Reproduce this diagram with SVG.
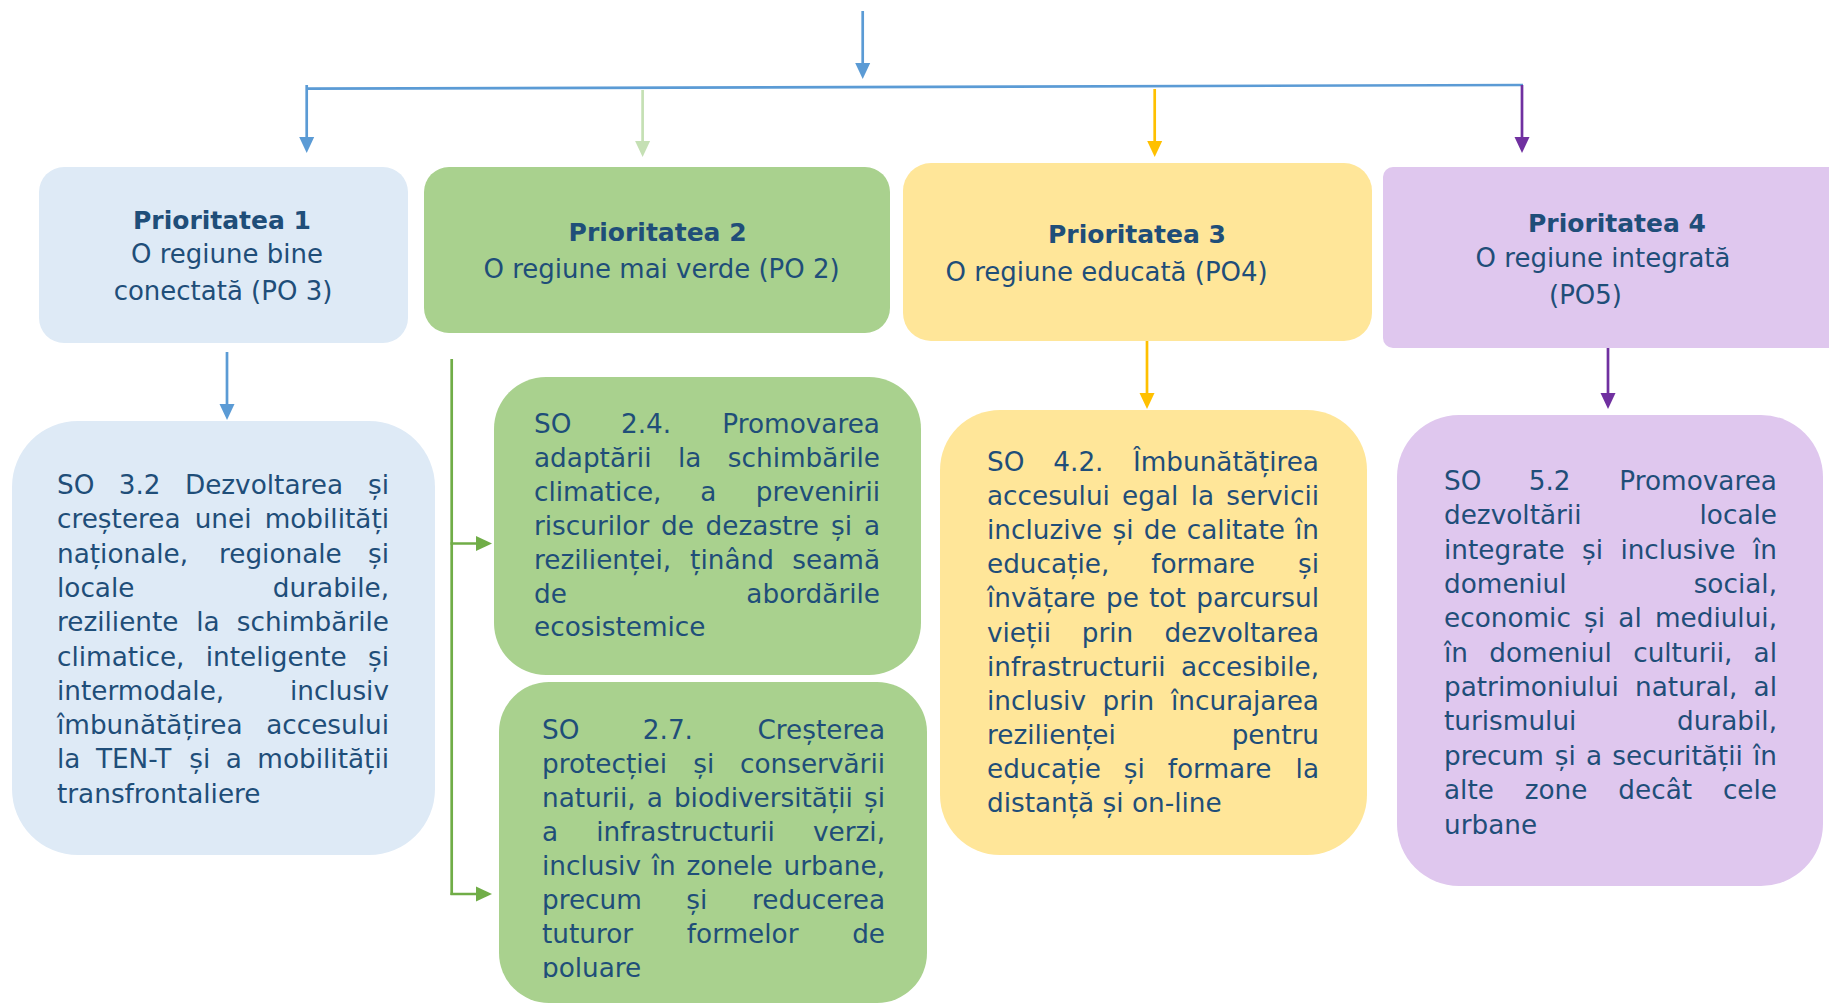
<svg xmlns="http://www.w3.org/2000/svg" width="1829" height="1004" viewBox="0 0 1829 1004">
<style>
text{font-family:"DejaVu Sans","Liberation Sans",sans-serif;fill:#1F4E79;}
.h{font-size:26px;text-anchor:middle;}
.hb{font-size:25px;font-weight:bold;text-anchor:middle;}
.b{font-size:26.3px;}
.e{text-anchor:end;}
.ln{fill:none;stroke-width:2.7;}
</style>
<defs>
<marker id="mB" markerUnits="userSpaceOnUse" markerWidth="16" markerHeight="16" viewBox="0 0 16 16" refX="12" refY="8" orient="auto"><path d="M0,0.5 L16,8 L0,15.5 z" fill="#5B9BD5"/></marker>
<marker id="mLG" markerUnits="userSpaceOnUse" markerWidth="16" markerHeight="16" viewBox="0 0 16 16" refX="12" refY="8" orient="auto"><path d="M0,0.5 L16,8 L0,15.5 z" fill="#C5E0B4"/></marker>
<marker id="mY" markerUnits="userSpaceOnUse" markerWidth="16" markerHeight="16" viewBox="0 0 16 16" refX="12" refY="8" orient="auto"><path d="M0,0.5 L16,8 L0,15.5 z" fill="#FFC000"/></marker>
<marker id="mP" markerUnits="userSpaceOnUse" markerWidth="16" markerHeight="16" viewBox="0 0 16 16" refX="12" refY="8" orient="auto"><path d="M0,0.5 L16,8 L0,15.5 z" fill="#7030A0"/></marker>
<marker id="mG" markerUnits="userSpaceOnUse" markerWidth="16" markerHeight="16" viewBox="0 0 16 16" refX="12" refY="8" orient="auto"><path d="M0,0.5 L16,8 L0,15.5 z" fill="#70AD47"/></marker>
<clipPath id="clip27"><rect x="499" y="682" width="428" height="296"/></clipPath>
</defs>
<rect width="1829" height="1004" fill="#FFFFFF"/>

<g id="connectors">
<line class="ln" x1="862.7" y1="11" x2="862.7" y2="75" stroke="#5B9BD5" marker-end="url(#mB)"/>
<line class="ln" x1="307" y1="88.7" x2="1523" y2="85" stroke="#5B9BD5" stroke-width="3"/>
<line class="ln" x1="306.7" y1="85" x2="306.7" y2="149" stroke="#5B9BD5" marker-end="url(#mB)"/>
<line class="ln" x1="642.6" y1="90" x2="642.6" y2="153" stroke="#C5E0B4" marker-end="url(#mLG)"/>
<line class="ln" x1="1154.7" y1="89" x2="1154.7" y2="153" stroke="#FFC000" marker-end="url(#mY)"/>
<line class="ln" x1="1522" y1="85" x2="1522" y2="149" stroke="#7030A0" marker-end="url(#mP)"/>
<line class="ln" x1="227" y1="352" x2="227" y2="416" stroke="#5B9BD5" marker-end="url(#mB)"/>
<line class="ln" x1="451.7" y1="359" x2="451.7" y2="895" stroke="#70AD47"/>
<line class="ln" x1="450.5" y1="543.5" x2="488" y2="543.5" stroke="#70AD47" marker-end="url(#mG)"/>
<line class="ln" x1="450.5" y1="894" x2="488" y2="894" stroke="#70AD47" marker-end="url(#mG)"/>
<line class="ln" x1="1147" y1="340" x2="1147" y2="405" stroke="#FFC000" marker-end="url(#mY)"/>
<line class="ln" x1="1608" y1="341" x2="1608" y2="405" stroke="#7030A0" marker-end="url(#mP)"/>
</g>

<g id="p1">
<rect x="39" y="167" width="369" height="176" rx="25" fill="#DEEAF6"/>
<text class="hb" x="222" y="229">Prioritatea 1</text>
<text class="h" x="227" y="263">O regiune bine</text>
<text class="h" x="223" y="300">conectată (PO 3)</text>
</g>

<g id="p2">
<rect x="424" y="167" width="466" height="166" rx="25" fill="#A9D18E"/>
<text class="hb" x="657.6" y="241">Prioritatea 2</text>
<text class="h" x="661.6" y="278">O regiune mai verde (PO 2)</text>
</g>

<g id="p3">
<rect x="903" y="163" width="469" height="178" rx="28" fill="#FFE699"/>
<text class="hb" x="1137" y="243">Prioritatea 3</text>
<text class="h" x="1106.6" y="281">O regiune educată (PO4)</text>
</g>

<g id="p4">
<rect x="1383" y="167" width="460" height="181" rx="10" fill="#DFC7EE"/>
<text class="hb" x="1617" y="232">Prioritatea 4</text>
<text class="h" x="1603" y="267">O regiune integrată</text>
<text class="h" x="1585.5" y="304">(PO5)</text>
</g>

<g id="so32">
<rect x="12" y="421" width="423" height="434" rx="66" fill="#DEEAF6"/>
<text class="b" y="494"><tspan x="57">SO</tspan><tspan x="118.7">3.2</tspan><tspan x="184.9">Dezvoltarea</tspan><tspan class="e" x="389">și</tspan></text>
<text class="b" y="528.3"><tspan x="57">creșterea</tspan><tspan x="194.7">unei</tspan><tspan class="e" x="389">mobilități</tspan></text>
<text class="b" y="562.6"><tspan x="57">naționale,</tspan><tspan x="219">regionale</tspan><tspan class="e" x="389">și</tspan></text>
<text class="b" y="596.9"><tspan x="57">locale</tspan><tspan class="e" x="389">durabile,</tspan></text>
<text class="b" y="631.2"><tspan x="57">reziliente</tspan><tspan x="196.2">la</tspan><tspan class="e" x="389">schimbările</tspan></text>
<text class="b" y="665.5"><tspan x="57">climatice,</tspan><tspan x="205.7">inteligente</tspan><tspan class="e" x="389">și</tspan></text>
<text class="b" y="699.8"><tspan x="57">intermodale,</tspan><tspan class="e" x="389">inclusiv</tspan></text>
<text class="b" y="734.1"><tspan x="57">îmbunătățirea</tspan><tspan class="e" x="389">accesului</tspan></text>
<text class="b" y="768.4"><tspan x="57">la</tspan><tspan x="95.9">TEN-T</tspan><tspan x="189.3">și</tspan><tspan x="225.8">a</tspan><tspan class="e" x="389">mobilității</tspan></text>
<text class="b" y="802.7"><tspan x="57">transfrontaliere</tspan></text>
</g>

<g id="so24">
<rect x="494" y="377" width="427" height="298" rx="52" fill="#A9D18E"/>
<text class="b" y="433"><tspan x="534">SO</tspan><tspan x="621">2.4.</tspan><tspan class="e" x="880">Promovarea</tspan></text>
<text class="b" y="466.9"><tspan x="534">adaptării</tspan><tspan x="678">la</tspan><tspan class="e" x="880">schimbările</tspan></text>
<text class="b" y="500.8"><tspan x="534">climatice,</tspan><tspan x="700.3">a</tspan><tspan class="e" x="880">prevenirii</tspan></text>
<text class="b" y="534.7"><tspan x="534">riscurilor</tspan><tspan x="661">de</tspan><tspan x="705.6">dezastre</tspan><tspan x="831.1">și</tspan><tspan class="e" x="880">a</tspan></text>
<text class="b" y="568.6"><tspan x="534">rezilienței,</tspan><tspan x="690.1">ținând</tspan><tspan class="e" x="880">seamă</tspan></text>
<text class="b" y="602.5"><tspan x="534">de</tspan><tspan class="e" x="880">abordările</tspan></text>
<text class="b" y="636.4"><tspan x="534">ecosistemice</tspan></text>
</g>

<g id="so27">
<rect x="499" y="682" width="428" height="321" rx="50" fill="#A9D18E"/>
<g clip-path="url(#clip27)">
<text class="b" y="739"><tspan x="542">SO</tspan><tspan x="642.8">2.7.</tspan><tspan class="e" x="885">Creșterea</tspan></text>
<text class="b" y="773"><tspan x="542">protecției</tspan><tspan x="693.3">și</tspan><tspan class="e" x="885">conservării</tspan></text>
<text class="b" y="807"><tspan x="542">naturii,</tspan><tspan x="646.7">a</tspan><tspan x="673.9">biodiversității</tspan><tspan class="e" x="885">și</tspan></text>
<text class="b" y="841"><tspan x="542">a</tspan><tspan x="596.3">infrastructurii</tspan><tspan class="e" x="885">verzi,</tspan></text>
<text class="b" y="875"><tspan x="542">inclusiv</tspan><tspan x="651.8">în</tspan><tspan x="686.5">zonele</tspan><tspan class="e" x="885">urbane,</tspan></text>
<text class="b" y="909"><tspan x="542">precum</tspan><tspan x="686.2">și</tspan><tspan class="e" x="885">reducerea</tspan></text>
<text class="b" y="943"><tspan x="542">tuturor</tspan><tspan x="686.8">formelor</tspan><tspan class="e" x="885">de</tspan></text>
<text class="b" y="977"><tspan x="542">poluare</tspan></text>
</g>
</g>

<g id="so42">
<rect x="940" y="410" width="427" height="445" rx="60" fill="#FFE699"/>
<text class="b" y="471"><tspan x="987">SO</tspan><tspan x="1053.3">4.2.</tspan><tspan class="e" x="1319">Îmbunătățirea</tspan></text>
<text class="b" y="505.1"><tspan x="987">accesului</tspan><tspan x="1122.1">egal</tspan><tspan x="1190.7">la</tspan><tspan class="e" x="1319">servicii</tspan></text>
<text class="b" y="539.2"><tspan x="987">incluzive</tspan><tspan x="1112.5">și</tspan><tspan x="1143.7">de</tspan><tspan x="1186.8">calitate</tspan><tspan class="e" x="1319">în</tspan></text>
<text class="b" y="573.3"><tspan x="987">educație,</tspan><tspan x="1151.2">formare</tspan><tspan class="e" x="1319">și</tspan></text>
<text class="b" y="607.4"><tspan x="987">învățare</tspan><tspan x="1106.1">pe</tspan><tspan x="1149">tot</tspan><tspan class="e" x="1319">parcursul</tspan></text>
<text class="b" y="641.5"><tspan x="987">vieții</tspan><tspan x="1081.8">prin</tspan><tspan class="e" x="1319">dezvoltarea</tspan></text>
<text class="b" y="675.6"><tspan x="987">infrastructurii</tspan><tspan class="e" x="1319">accesibile,</tspan></text>
<text class="b" y="709.7"><tspan x="987">inclusiv</tspan><tspan x="1102.6">prin</tspan><tspan class="e" x="1319">încurajarea</tspan></text>
<text class="b" y="743.8"><tspan x="987">rezilienței</tspan><tspan class="e" x="1319">pentru</tspan></text>
<text class="b" y="777.9"><tspan x="987">educație</tspan><tspan x="1123.8">și</tspan><tspan x="1167.7">formare</tspan><tspan class="e" x="1319">la</tspan></text>
<text class="b" y="812"><tspan x="987">distanță și on-line</tspan></text>
</g>

<g id="so52">
<rect x="1397" y="415" width="426" height="471" rx="62" fill="#DFC7EE"/>
<text class="b" y="490"><tspan x="1444">SO</tspan><tspan x="1528.7">5.2</tspan><tspan class="e" x="1777">Promovarea</tspan></text>
<text class="b" y="524.35"><tspan x="1444">dezvoltării</tspan><tspan class="e" x="1777">locale</tspan></text>
<text class="b" y="558.7"><tspan x="1444">integrate</tspan><tspan x="1582">și</tspan><tspan x="1620.4">inclusive</tspan><tspan class="e" x="1777">în</tspan></text>
<text class="b" y="593.05"><tspan x="1444">domeniul</tspan><tspan class="e" x="1777">social,</tspan></text>
<text class="b" y="627.4"><tspan x="1444">economic</tspan><tspan x="1584.1">și</tspan><tspan x="1618.3">al</tspan><tspan class="e" x="1777">mediului,</tspan></text>
<text class="b" y="661.75"><tspan x="1444">în</tspan><tspan x="1489.3">domeniul</tspan><tspan x="1633.2">culturii,</tspan><tspan class="e" x="1777">al</tspan></text>
<text class="b" y="696.1"><tspan x="1444">patrimoniului</tspan><tspan x="1635.1">natural,</tspan><tspan class="e" x="1777">al</tspan></text>
<text class="b" y="730.45"><tspan x="1444">turismului</tspan><tspan class="e" x="1777">durabil,</tspan></text>
<text class="b" y="764.8"><tspan x="1444">precum</tspan><tspan x="1554.7">și</tspan><tspan x="1585.9">a</tspan><tspan x="1612.3">securității</tspan><tspan class="e" x="1777">în</tspan></text>
<text class="b" y="799.15"><tspan x="1444">alte</tspan><tspan x="1524.7">zone</tspan><tspan x="1618.3">decât</tspan><tspan class="e" x="1777">cele</tspan></text>
<text class="b" y="833.5"><tspan x="1444">urbane</tspan></text>
</g>
</svg>
